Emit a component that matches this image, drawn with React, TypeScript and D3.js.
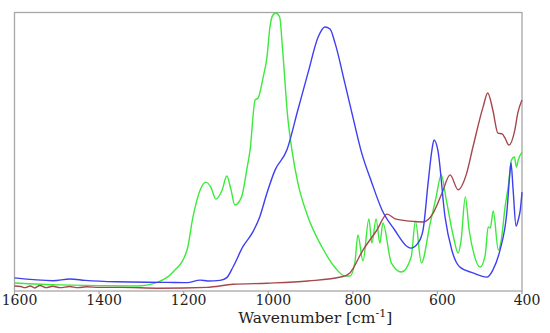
import React from 'react';
import * as d3 from 'd3';

const width = 550;
const height = 333;
const margin = { top: 12.5, right: 28, bottom: 42, left: 14.5 };

type Pt = [number, number];

// wavenumber [cm-1], absorbance (arb. units)
const greenSeries: Pt[] = [
  [1600, 0.029], [1492, 0.022], [1313, 0.018], [1261, 0.032], [1225, 0.068],
  [1192, 0.147], [1178, 0.266], [1161, 0.363], [1147, 0.391], [1135, 0.37],
  [1124, 0.33], [1109, 0.363], [1098, 0.413], [1088, 0.363], [1079, 0.309],
  [1063, 0.338], [1051, 0.434], [1043, 0.506], [1031, 0.686], [1024, 0.693],
  [1012, 0.768], [1003, 0.84], [996, 0.948], [989, 0.991], [982, 0.998],
  [973, 0.984], [966, 0.865], [954, 0.625], [944, 0.506], [930, 0.388],
  [906, 0.266], [873, 0.158], [843, 0.086], [819, 0.054], [807, 0.054],
  [795, 0.104], [788, 0.201], [776, 0.108], [762, 0.259], [755, 0.172],
  [745, 0.259], [736, 0.172], [729, 0.244], [709, 0.101], [685, 0.068],
  [662, 0.122], [652, 0.251], [638, 0.101], [617, 0.244], [603, 0.338],
  [591, 0.417], [579, 0.327], [562, 0.194], [551, 0.136], [544, 0.183],
  [534, 0.338], [525, 0.219], [513, 0.129], [499, 0.086], [487, 0.129],
  [480, 0.23], [475, 0.226], [468, 0.287], [456, 0.147], [449, 0.183],
  [440, 0.302], [432, 0.381], [425, 0.47], [418, 0.481], [413, 0.445],
  [409, 0.47], [400, 0.499],
];

const blueSeries: Pt[] = [
  [1600, 0.047], [1509, 0.037], [1469, 0.043], [1433, 0.038], [1358, 0.033],
  [1239, 0.031], [1192, 0.03], [1161, 0.039], [1143, 0.036], [1114, 0.038],
  [1098, 0.048], [1083, 0.087], [1060, 0.159], [1036, 0.213], [1020, 0.267],
  [1003, 0.352], [984, 0.434], [956, 0.506], [930, 0.65], [906, 0.783],
  [882, 0.912], [866, 0.948], [854, 0.941], [842, 0.89], [819, 0.747],
  [800, 0.625], [781, 0.506], [755, 0.388], [731, 0.291], [701, 0.219],
  [670, 0.158], [663, 0.154], [646, 0.172], [634, 0.219], [622, 0.388],
  [613, 0.506], [608, 0.542], [599, 0.506], [582, 0.266], [566, 0.147],
  [547, 0.086], [516, 0.065], [483, 0.05], [469, 0.075], [452, 0.147],
  [436, 0.28], [428, 0.434], [426, 0.46], [421, 0.363], [414, 0.233],
  [409, 0.255], [404, 0.291], [400, 0.355],
];

const brownSeries: Pt[] = [
  [1600, 0.018], [1585, 0.016], [1575, 0.012], [1563, 0.018], [1552, 0.011],
  [1540, 0.02], [1525, 0.012], [1510, 0.017], [1492, 0.012], [1470, 0.016],
  [1450, 0.012], [1430, 0.015], [1398, 0.013], [1350, 0.013], [1256, 0.01],
  [1145, 0.013], [1083, 0.024], [1003, 0.028], [906, 0.036], [826, 0.051],
  [807, 0.065], [776, 0.147], [743, 0.219], [719, 0.276], [700, 0.259],
  [665, 0.251], [634, 0.248], [610, 0.28], [589, 0.352], [570, 0.417],
  [551, 0.363], [532, 0.417], [516, 0.517], [492, 0.661], [481, 0.711],
  [469, 0.65], [457, 0.567], [447, 0.564], [440, 0.549], [431, 0.524],
  [417, 0.578], [410, 0.639], [400, 0.686],
];

const xTicks = [1600, 1400, 1200, 1000, 800, 600, 400];

const series = [
  { name: 'green', data: greenSeries, color: '#3bea3b' },
  { name: 'brown', data: brownSeries, color: '#a4484e' },
  { name: 'blue', data: blueSeries, color: '#3f3ff2' },
];

const serif = "'DejaVu Serif', serif";

const App = () => {
  const innerW = 522 - margin.left;
  const innerH = 291 - margin.top;

  const x = d3.scaleLinear().domain([1600, 400]).range([0, innerW]);
  const y = d3.scaleLinear().domain([0, 1]).range([innerH, 0]);

  const line = d3
    .line<Pt>()
    .x(d => x(d[0]))
    .y(d => y(d[1]))
    .curve(d3.curveMonotoneX);

  return (
    <svg width={width} height={height} style={{ position: 'absolute', left: 0, top: 0 }}>
      <g transform={`translate(${margin.left},${margin.top})`}>
        <rect x={0} y={0} width={innerW} height={innerH} fill="#fff" stroke="#a6a6a6" strokeWidth={1.3} />
        {series.map(s => (
          <path key={s.name} d={line(s.data) || ''} fill="none" stroke={s.color} strokeWidth={1.4} />
        ))}
        {xTicks.map(t => (
          <g key={t} transform={`translate(${x(t)},${innerH})`}>
            <line y1={0} y2={3} stroke="#a6a6a6" strokeWidth={1.2} />
            <text
              x={5}
              y={14}
              textAnchor="middle"
              style={{ fontFamily: serif, fontSize: 14 }}
              fill="#222"
            >
              {t}
            </text>
          </g>
        ))}
        <text
          x={x(1000) + 47}
          y={innerH + 32}
          textAnchor="middle"
          style={{ fontFamily: serif, fontSize: 15.5 }}
          fill="#222"
        >
          Wavenumber [cm
          <tspan dy={-6} style={{ fontSize: 11 }}>-1</tspan>
          <tspan dy={6}>]</tspan>
        </text>
      </g>
    </svg>
  );
};

export default App;
